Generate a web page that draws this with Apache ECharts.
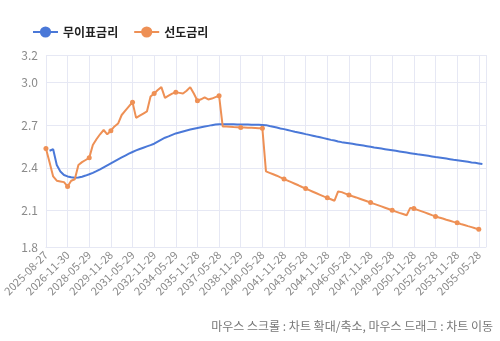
<!DOCTYPE html>
<html>
<head>
<meta charset="utf-8">
<script src="https://cdn.jsdelivr.net/npm/echarts@6/dist/echarts.min.js"></script>
<style>
html,body{margin:0;padding:0;background:#fff;}
#chart{width:500px;height:341px;}
</style>
</head>
<body>
<div id="chart"></div>
<script>
// Category dates (labels shown every 6th)
var categories = [
'2025-08-27','2025-09-29','2025-11-28','2026-02-27','2026-05-28','2026-08-28',
'2026-11-30','2027-02-26','2027-05-28','2027-08-30','2027-11-29','2028-02-28',
'2028-05-29','2028-08-28','2028-11-28','2029-02-28','2029-05-28','2029-08-28',
'2029-11-28','2030-02-28','2030-05-28','2030-08-28','2030-11-28','2031-02-28',
'2031-05-29','2031-08-28','2031-11-28','2032-02-27','2032-05-28','2032-08-30',
'2032-11-29','2033-02-28','2033-05-30','2033-08-29','2033-11-28','2034-02-28',
'2034-05-29','2034-08-28','2034-11-28','2035-02-28','2035-05-28','2035-08-28',
'2035-11-28','2036-02-28','2036-05-28','2036-08-28','2036-11-28','2037-02-27',
'2037-05-28','2037-08-28','2037-11-30','2038-02-26','2038-05-28','2038-08-30',
'2038-11-29','2039-02-28','2039-05-30','2039-08-29','2039-11-28','2040-02-28',
'2040-05-28','2040-08-28','2040-11-28','2041-02-28','2041-05-28','2041-08-28',
'2041-11-28','2042-02-28','2042-05-28','2042-08-28','2042-11-28','2043-02-27',
'2043-05-28','2043-08-28','2043-11-30','2044-02-29','2044-05-30','2044-08-29',
'2044-11-28','2045-02-28','2045-05-29','2045-08-28','2045-11-28','2046-02-28',
'2046-05-28','2046-08-28','2046-11-28','2047-02-28','2047-05-28','2047-08-28',
'2047-11-28','2048-02-28','2048-05-28','2048-08-28','2048-11-30','2049-02-26',
'2049-05-28','2049-08-30','2049-11-29','2050-02-28','2050-05-30','2050-08-29',
'2050-11-28','2051-02-28','2051-05-29','2051-08-28','2051-11-28','2052-02-28',
'2052-05-28','2052-08-28','2052-11-28','2053-02-28','2053-05-28','2053-08-28',
'2053-11-28','2054-02-27','2054-05-28','2054-08-28','2054-11-30','2055-02-26',
'2055-05-28','2055-08-27','2055-11-29'
];

// 무이표금리 (zero rate)
var zeroRate = [
'-',2.52,2.53,2.42,2.375,2.35,
2.34,2.334,2.33,2.332,2.338,2.346,
2.355,2.365,2.377,2.39,2.404,2.418,
2.432,2.446,2.46,2.473,2.486,2.499,
2.511,2.522,2.532,2.541,2.55,2.559,
2.569,2.584,2.598,2.611,2.62,2.631,
2.641,2.648,2.655,2.662,2.668,2.674,
2.679,2.684,2.689,2.694,2.699,2.703,
2.706,2.706,2.706,2.705,2.705,2.704,
2.704,2.703,2.703,2.702,2.702,2.701,
2.7,2.699,2.693,2.688,2.682,2.676,
2.671,2.665,2.659,2.653,2.648,2.642,
2.636,2.631,2.625,2.619,2.614,2.608,
2.602,2.596,2.591,2.585,2.58,2.576,
2.572,2.568,2.564,2.56,2.556,2.552,
2.548,2.543,2.539,2.535,2.531,2.527,
2.523,2.519,2.515,2.511,2.507,2.503,
2.499,2.495,2.492,2.488,2.484,2.48,
2.476,2.473,2.469,2.465,2.461,2.457,
2.454,2.45,2.446,2.442,2.438,2.435,
2.431,2.427,'-'
];

// 선도금리 (forward rate)
var forwardRate = [
2.535,2.44,2.34,2.31,2.305,2.3,
2.27,2.31,2.32,2.42,2.44,2.455,
2.47,2.56,2.6,2.635,2.665,2.635,
2.66,2.69,2.71,2.77,2.8,2.83,
2.86,2.75,2.765,2.78,2.795,2.9,
2.92,2.945,2.965,2.89,2.905,2.92,
2.93,2.925,2.92,2.94,2.965,2.92,
2.87,2.88,2.893,2.879,2.885,2.895,
2.905,2.69,2.689,2.688,2.686,2.685,
2.683,2.682,2.681,2.68,2.679,2.678,
2.677,2.375,2.365,2.355,2.345,2.333,
2.322,2.311,2.3,2.289,2.278,2.266,
2.255,2.244,2.233,2.222,2.211,2.2,
2.19,2.18,2.17,2.235,2.23,2.22,
2.21,2.201,2.193,2.184,2.175,2.166,
2.157,2.148,2.139,2.13,2.121,2.112,
2.103,2.094,2.085,2.077,2.068,2.12,
2.115,2.106,2.097,2.088,2.079,2.069,
2.06,2.052,2.045,2.037,2.03,2.022,
2.015,2.007,2.0,1.992,1.985,1.977,
1.97,'-','-'
];

var seriesNames = ['무이표금리', '선도금리'];
var seriesColors = ['#4a78d8', '#ee9055'];
var hintText = '마우스 스크롤 : 차트 확대/축소, 마우스 드래그 : 차트 이동';

var chart = echarts.init(document.getElementById('chart'), null, {renderer: 'canvas'});
var FONT = '"Noto Sans CJK KR", "Noto Sans", sans-serif';
var gridColor = '#e6e8f4';
var lastIdx = categories.length - 1;

chart.setOption({
  animation: false,
  backgroundColor: '#ffffff',
  textStyle: { fontFamily: FONT },
  color: seriesColors,
  legend: {
    left: 27,
    top: 21,
    itemWidth: 25,
    itemHeight: 14,
    itemGap: 15,
    textStyle: { fontFamily: FONT, fontSize: 12, fontWeight: 'bold', color: '#222' },
    data: seriesNames
  },
  grid: { left: 45, right: 14, top: 55, bottom: 94, containLabel: false },
  xAxis: {
    type: 'category',
    boundaryGap: false,
    data: categories,
    axisLine: { lineStyle: { color: gridColor } },
    axisTick: { show: false },
    axisLabel: {
      interval: 5,
      rotate: 45,
      color: '#8a8a8a',
      fontSize: 11,
      fontFamily: FONT,
      margin: 6
    },
    splitLine: {
      show: true,
      interval: function (index) { return index % 6 === 0 || index === lastIdx; },
      lineStyle: { color: gridColor, width: 1 }
    }
  },
  yAxis: {
    type: 'value',
    min: 1.846,
    max: 3.19,
    splitNumber: 5,
    minInterval: 0.3,
    maxInterval: 0.3,
    axisLine: { show: false },
    axisTick: { show: false },
    axisLabel: {
      color: '#8a8a8a',
      fontSize: 12,
      fontFamily: FONT,
      margin: 8,
      formatter: function (v) { return v.toFixed(1); }
    },
    splitLine: { lineStyle: { color: gridColor, width: 1 } }
  },
  series: [
    {
      name: seriesNames[0],
      type: 'line',
      data: zeroRate,
      symbol: 'circle',
      symbolSize: 5,
      showSymbol: false,
      lineStyle: { width: 2, color: seriesColors[0] },
      itemStyle: { color: seriesColors[0] }
    },
    {
      name: seriesNames[1],
      type: 'line',
      data: forwardRate,
      symbol: 'circle',
      symbolSize: 5,
      showAllSymbol: 'auto',
      lineStyle: { width: 2, color: seriesColors[1] },
      itemStyle: { color: seriesColors[1] }
    }
  ],
  graphic: [
    {
      type: 'text',
      right: 7,
      bottom: 9,
      style: {
        text: hintText,
        fill: '#777',
        font: '12px ' + FONT
      }
    }
  ]
});
</script>
</body>
</html>
